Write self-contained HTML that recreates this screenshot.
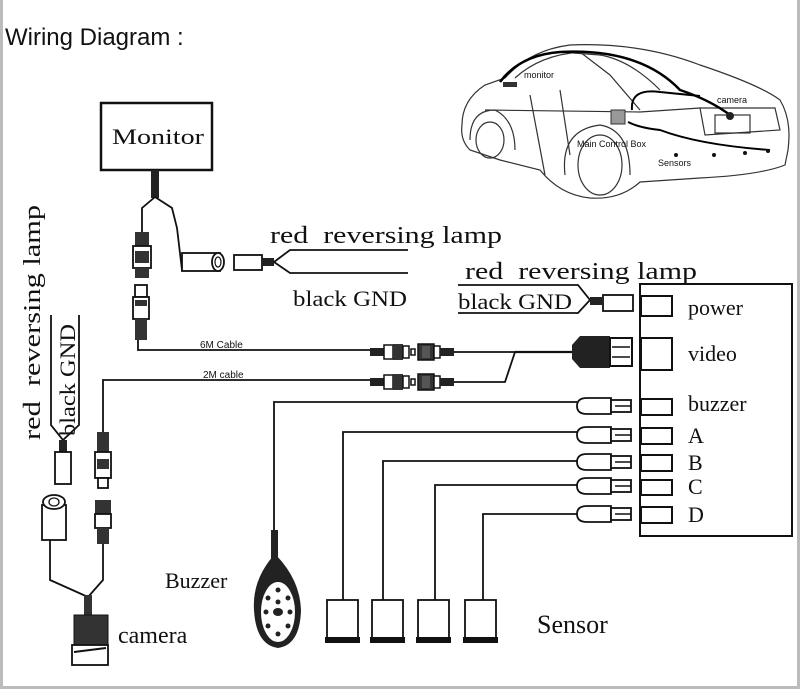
<!DOCTYPE html>
<html><head><meta charset="utf-8"><style>
html,body{margin:0;padding:0;background:#fff}
svg{display:block}
.s{font-family:"Liberation Serif",serif;fill:#111}
.a{font-family:"Liberation Sans",sans-serif;fill:#111}
</style></head><body>
<svg width="800" height="689" viewBox="0 0 800 689" xmlns="http://www.w3.org/2000/svg">
<defs>
<g id="rca">
 <rect x="0" y="-4" width="14" height="8" fill="#222"/>
 <rect x="14" y="-7" width="9" height="14" fill="#fff" stroke="#111" stroke-width="1.5"/>
 <rect x="23" y="-8" width="10" height="16" fill="#333"/>
 <rect x="33" y="-6" width="6" height="12" fill="#fff" stroke="#111" stroke-width="1.5"/>
 <rect x="41" y="-3" width="4" height="6" fill="#fff" stroke="#111" stroke-width="1.5"/>
 <rect x="48" y="-8" width="16" height="16" fill="#333" stroke="#111" stroke-width="1.5"/>
 <rect x="52" y="-6" width="8" height="12" fill="#555"/>
 <rect x="64" y="-6" width="6" height="12" fill="#fff" stroke="#111" stroke-width="1.5"/>
 <rect x="70" y="-4" width="14" height="8" fill="#222"/>
</g>
<g id="plug">
 <path d="M12,-8 L36,-8 L36,8 L12,8 Q2,8 2,0 Q2,-8 12,-8 Z" fill="#fff" stroke="#111" stroke-width="1.8"/>
 <rect x="36" y="-6" width="20" height="12" fill="#fff" stroke="#111" stroke-width="1.8"/>
 <line x1="40" y1="0" x2="56" y2="0" stroke="#111" stroke-width="1.5"/>
</g>
<g id="sensor">
 <rect x="0" y="0" width="31" height="38" fill="#fff" stroke="#111" stroke-width="1.8"/>
 <rect x="-2" y="37" width="35" height="6" fill="#111"/>
</g>
</defs>
<rect x="0" y="0" width="800" height="689" fill="#fff"/>
<rect x="0" y="0" width="3" height="689" fill="#bbb"/>
<rect x="797" y="0" width="3" height="689" fill="#bbb"/>
<rect x="0" y="686" width="800" height="3" fill="#bbb"/>

<text x="5" y="45" class="a" font-size="24">Wiring Diagram :</text>

<!-- car -->
<g fill="none" stroke="#333" stroke-width="1.2">
 <path d="M462,125 Q462,100 485,85 L505,78 Q530,50 570,45 Q640,42 700,65 Q760,85 780,100 Q792,120 788,150 L785,165 Q760,175 700,178 L640,182 Q620,200 590,198 Q560,195 540,170 L500,160 L470,150 Q460,140 462,125 Z"/>
 <path d="M515,78 Q540,55 580,52 L610,75 L640,110"/>
 <path d="M560,52 L600,55 Q630,60 660,90"/>
 <path d="M470,140 Q470,110 495,110 Q515,120 515,150"/>
 <path d="M565,175 Q560,130 600,125 Q630,130 630,175"/>
 <ellipse cx="600" cy="165" rx="22" ry="30"/>
 <ellipse cx="490" cy="140" rx="14" ry="18"/>
 <path d="M700,108 L775,108 L780,130 L705,135 Z"/>
 <rect x="715" y="115" width="35" height="18"/>
 <line x1="530" y1="95" x2="545" y2="175"/>
 <line x1="560" y1="90" x2="570" y2="155"/>
 <path d="M485,110 L640,112 L700,108"/>
</g>
<path d="M500,82 Q520,55 560,52 Q640,48 680,90 Q710,100 730,115" fill="none" stroke="#000" stroke-width="2.5"/>
<path d="M632,110 Q630,88 660,92 L700,96" fill="none" stroke="#000" stroke-width="2"/>
<path d="M628,122 Q640,128 660,130 Q700,145 770,150" fill="none" stroke="#000" stroke-width="2"/>
<rect x="611" y="110" width="14" height="14" fill="#999" stroke="#333"/>
<rect x="503" y="82" width="14" height="5" fill="#333"/>
<circle cx="730" cy="116" r="4" fill="#222"/>
<g fill="#111"><circle cx="676" cy="155" r="2"/><circle cx="714" cy="155" r="2"/><circle cx="745" cy="153" r="2"/><circle cx="768" cy="151" r="2"/></g>
<text x="524" y="78" class="a" font-size="9">monitor</text>
<text x="717" y="103" class="a" font-size="9">camera</text>
<text x="577" y="147" class="a" font-size="9">Main Control Box</text>
<text x="658" y="166" class="a" font-size="9">Sensors</text>

<!-- monitor -->
<rect x="101" y="103" width="111" height="67" fill="#fff" stroke="#111" stroke-width="2.5"/>
<text x="112" y="144" class="s" font-size="22" textLength="92" lengthAdjust="spacingAndGlyphs">Monitor</text>
<rect x="151" y="170" width="8" height="28" fill="#222"/>
<g fill="none" stroke="#111" stroke-width="1.8">
 <path d="M155,197 L142,208 L142,232"/>
 <path d="M155,197 L172,208 L177,228 L182,270 L204,270"/>
 <path d="M138,340 L138,350 L370,350"/>
 <path d="M103,432 L103,380 L370,380"/>
</g>
<rect x="182" y="253" width="38" height="18" fill="#fff" stroke="#111" stroke-width="1.8"/>
<ellipse cx="218" cy="262" rx="6" ry="9" fill="#fff" stroke="#111" stroke-width="1.8"/>
<ellipse cx="218" cy="262" rx="3" ry="5" fill="none" stroke="#111" stroke-width="1.2"/>
<rect x="234" y="255" width="28" height="15" fill="#fff" stroke="#111" stroke-width="1.8"/>
<rect x="262" y="258" width="12" height="8" fill="#222"/>
<path d="M274,262 L290,250 L408,250 M274,262 L290,273 L408,273" fill="none" stroke="#111" stroke-width="1.8"/>
<text x="270" y="243" class="s" font-size="24" textLength="232" lengthAdjust="spacingAndGlyphs" xml:space="preserve">red  reversing lamp</text>
<text x="293" y="306" class="s" font-size="22" textLength="114" lengthAdjust="spacingAndGlyphs">black GND</text>

<!-- left monitor connectors -->
<rect x="135" y="232" width="14" height="14" fill="#333"/>
<rect x="133" y="246" width="18" height="22" fill="#fff" stroke="#111" stroke-width="1.8"/>
<rect x="135" y="251" width="14" height="12" fill="#333"/>
<rect x="135" y="268" width="14" height="10" fill="#333"/>
<rect x="135" y="285" width="12" height="12" fill="#fff" stroke="#111" stroke-width="1.8"/>
<rect x="133" y="297" width="16" height="22" fill="#fff" stroke="#111" stroke-width="1.8"/>
<rect x="135" y="300" width="12" height="6" fill="#333"/>
<rect x="135" y="319" width="12" height="21" fill="#333"/>

<text x="200" y="348" class="a" font-size="10">6M Cable</text>
<text x="203" y="378" class="a" font-size="10">2M cable</text>

<use href="#rca" x="370" y="352"/>
<use href="#rca" x="370" y="382"/>
<path d="M454,352 L515,352 M515,352 L505,382 L454,382" fill="none" stroke="#111" stroke-width="1.8"/>
<line x1="515" y1="352" x2="572" y2="352" stroke="#111" stroke-width="2.2"/>
<path d="M572,345 L580,336 L610,336 L610,368 L580,368 L572,359 Z" fill="#222"/>
<rect x="610" y="338" width="22" height="28" fill="#fff" stroke="#111" stroke-width="2"/>
<line x1="612" y1="347" x2="630" y2="347" stroke="#111" stroke-width="1.5"/>
<line x1="612" y1="357" x2="630" y2="357" stroke="#111" stroke-width="1.5"/>

<!-- control box -->
<rect x="640" y="284" width="152" height="252" fill="#fff" stroke="#111" stroke-width="2"/>
<g fill="#fff" stroke="#111" stroke-width="2">
 <rect x="641" y="296" width="31" height="20"/>
 <rect x="641" y="338" width="31" height="32"/>
 <rect x="641" y="399" width="31" height="16"/>
 <rect x="641" y="428" width="31" height="16"/>
 <rect x="641" y="455" width="31" height="16"/>
 <rect x="641" y="480" width="31" height="15"/>
 <rect x="641" y="507" width="31" height="16"/>
</g>
<g class="s" font-size="22">
 <text x="688" y="315">power</text>
 <text x="688" y="361">video</text>
 <text x="688" y="411">buzzer</text>
 <text x="688" y="443">A</text>
 <text x="688" y="470">B</text>
 <text x="688" y="494">C</text>
 <text x="688" y="522">D</text>
</g>
<text x="465" y="279" class="s" font-size="24" textLength="232" lengthAdjust="spacingAndGlyphs" xml:space="preserve">red  reversing lamp</text>
<path d="M458,285 L578,285 L590,300 L578,313 L458,313" fill="none" stroke="#111" stroke-width="1.8"/>
<text x="458" y="309" class="s" font-size="22" textLength="114" lengthAdjust="spacingAndGlyphs">black GND</text>
<rect x="590" y="297" width="12" height="8" fill="#222"/>
<rect x="603" y="295" width="30" height="16" fill="#fff" stroke="#111" stroke-width="1.8"/>

<!-- plugs and lines -->
<use href="#plug" x="575" y="406"/>
<use href="#plug" x="575" y="435"/>
<use href="#plug" x="575" y="462"/>
<use href="#plug" x="575" y="486"/>
<use href="#plug" x="575" y="514"/>
<g fill="none" stroke="#111" stroke-width="1.8">
 <path d="M577,402 L274,402 L274,530"/>
 <path d="M577,432 L343,432 L343,600"/>
 <path d="M577,461 L383,461 L383,600"/>
 <path d="M577,485 L435,485 L435,600"/>
 <path d="M577,514 L483,514 L483,600"/>
</g>
<rect x="271" y="530" width="7" height="30" fill="#222"/>
<path d="M274,555 Q252,580 254,610 Q256,645 278,648 Q300,645 301,610 Q300,580 276,555 Z" fill="#222"/>
<ellipse cx="278" cy="612" rx="18" ry="31" fill="#fff" stroke="#222" stroke-width="2"/>
<g fill="#222"><circle cx="278" cy="590" r="2.5"/><circle cx="268" cy="598" r="2.5"/><circle cx="288" cy="598" r="2.5"/><circle cx="266" cy="612" r="2.5"/><circle cx="290" cy="612" r="2.5"/><ellipse cx="278" cy="612" rx="5" ry="4"/><circle cx="268" cy="626" r="2.5"/><circle cx="288" cy="626" r="2.5"/><circle cx="278" cy="634" r="2.5"/><circle cx="278" cy="602" r="2.5"/></g>
<use href="#sensor" x="327" y="600"/>
<use href="#sensor" x="372" y="600"/>
<use href="#sensor" x="418" y="600"/>
<use href="#sensor" x="465" y="600"/>
<text x="165" y="588" class="s" font-size="22">Buzzer</text>
<text x="537" y="633" class="s" font-size="26">Sensor</text>

<!-- left lamp -->
<text transform="translate(40,440) rotate(-90)" class="s" font-size="24" textLength="235" lengthAdjust="spacingAndGlyphs" xml:space="preserve">red  reversing lamp</text>
<path d="M51,315 L51,425 L63,440 L79,425 L79,315" fill="none" stroke="#111" stroke-width="1.8"/>
<text transform="translate(75,436) rotate(-90)" class="s" font-size="22" textLength="112" lengthAdjust="spacingAndGlyphs">black GND</text>
<rect x="59" y="440" width="8" height="12" fill="#222"/>
<rect x="55" y="452" width="16" height="32" fill="#fff" stroke="#111" stroke-width="1.8"/>
<rect x="42" y="505" width="24" height="35" fill="#fff" stroke="#111" stroke-width="1.8"/>
<ellipse cx="54" cy="502" rx="11" ry="7" fill="#fff" stroke="#111" stroke-width="1.8"/>
<ellipse cx="54" cy="502" rx="5" ry="4" fill="none" stroke="#111" stroke-width="1.3"/>
<!-- camera connectors -->
<rect x="97" y="432" width="12" height="20" fill="#333"/>
<rect x="95" y="452" width="16" height="26" fill="#fff" stroke="#111" stroke-width="1.8"/>
<rect x="97" y="459" width="12" height="10" fill="#333"/>
<rect x="98" y="478" width="10" height="10" fill="#fff" stroke="#111" stroke-width="1.8"/>
<rect x="95" y="500" width="16" height="14" fill="#333"/>
<rect x="95" y="514" width="16" height="14" fill="#fff" stroke="#111" stroke-width="1.8"/>
<rect x="97" y="528" width="12" height="16" fill="#333"/>
<path d="M50,540 L50,580 L88,597 L103,580 L103,544" fill="none" stroke="#111" stroke-width="1.8"/>
<rect x="84" y="595" width="8" height="20" fill="#333"/>
<rect x="74" y="615" width="34" height="30" fill="#333" stroke="#111"/>
<rect x="72" y="645" width="36" height="20" fill="#fff" stroke="#111" stroke-width="1.8"/>
<line x1="74" y1="652" x2="106" y2="648" stroke="#111" stroke-width="2"/>
<text x="118" y="643" class="s" font-size="24">camera</text>
</svg>
</body></html>
